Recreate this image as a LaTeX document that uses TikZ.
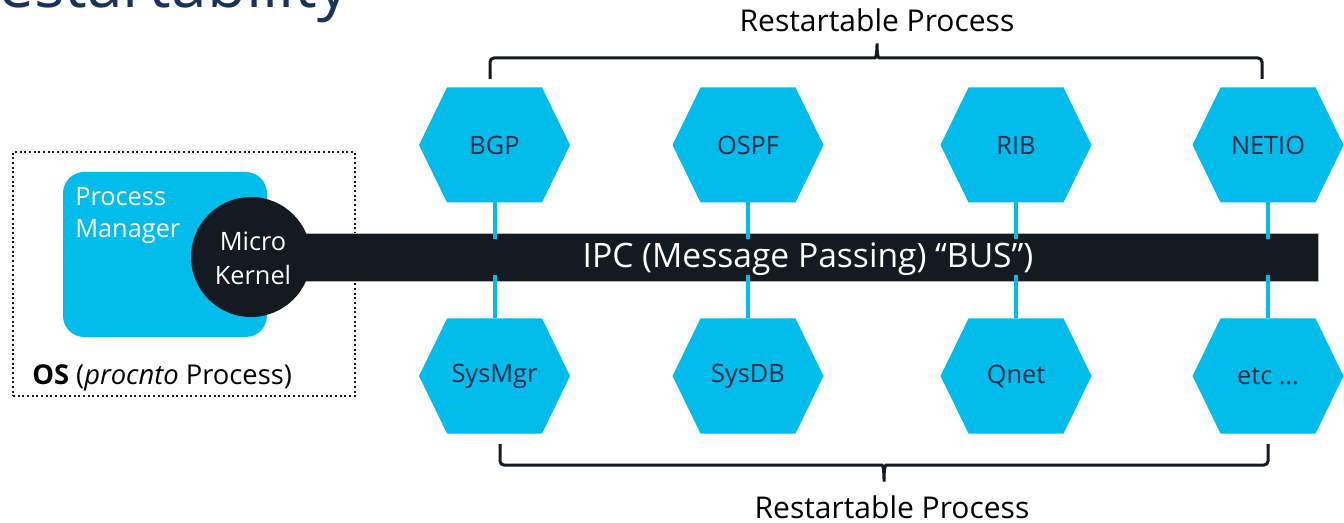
\documentclass[tikz,border=0pt]{standalone}
\usepackage{fontspec}
\setmainfont{Open Sans}
\usetikzlibrary{positioning}

\definecolor{procblue}{RGB}{0,188,235}
\definecolor{busdark}{RGB}{20,26,33}
\definecolor{hextext}{RGB}{27,43,73}
\definecolor{titleblue}{RGB}{24,52,94}

\tikzset{
  hexbox/.style={minimum width=113.25pt, minimum height=86.25pt, inner sep=0pt, outer sep=0pt,
    text=hextext, font=\fontsize{19}{22}\selectfont,
    path picture={\fill[procblue] (path picture bounding box.west)
      -- ([xshift=21pt]path picture bounding box.north west)
      -- ([xshift=-21pt]path picture bounding box.north east)
      -- (path picture bounding box.east)
      -- ([xshift=-21pt]path picture bounding box.south east)
      -- ([xshift=21pt]path picture bounding box.south west) -- cycle;}},
  link/.style={procblue, line width=3pt},
  brace/.style={busdark, line width=2.25pt, rounded corners=3pt},
  caption/.style={font=\fontsize{22.5}{26}\selectfont, text=black}
}

\begin{document}
\begin{tikzpicture}[x=0.75pt, y=-0.75pt]
\useasboundingbox (0,0) rectangle (1344,523);
\clip (0,0) rectangle (1344,523);

% title, cut off at the top edge
\node[anchor=base east, inner sep=0pt, text=titleblue, font=\fontsize{48}{54}\selectfont] (title) at (350,8) {Restartability};

% OS box
\node[draw=busdark, dotted, line width=1.5pt, minimum width=256.5pt, minimum height=183pt] (os) at (184,274) {};
\node[anchor=base west, inner sep=0pt, font=\fontsize{20.5}{24}\selectfont] (oslabel) at (32,384) {\textbf{OS} (\textit{procnto} Process)};
\node[fill=procblue, rounded corners=16pt, minimum width=153pt, minimum height=123.75pt] (pm) at (165,254.5) {};
\node[anchor=north west, inner sep=0pt, align=left, text=white, font=\fontsize{19}{24}\selectfont] (pmlabel) at (75,187) {Process\\Manager};

% bus
\node[fill=busdark, draw=gray!60, line width=0.4pt, minimum width=763.5pt, minimum height=36pt, inner sep=0pt] (bus) at (809,257) {};
\node[circle, fill=busdark, minimum size=90pt, inner sep=0pt] (mk) at (251,257) {};
\node[align=center, text=white, font=\fontsize{19}{25.5}\selectfont] (mklabel) at ([xshift=1.5pt,yshift=-1pt]mk.center) {Micro\\Kernel};

% processes
\node[hexbox] (bgp) at (494.5,145) {BGP};
\node[hexbox] (ospf) at (748,145) {OSPF};
\node[hexbox] (rib) at (1016,145) {RIB};
\node[hexbox] (netio) at (1268,145) {NETIO};
\node[hexbox] (sysmgr) at (494.5,376) {SysMgr};
\node[hexbox] (sysdb) at (748,376) {SysDB};
\node[hexbox] (qnet) at (1016,376) {Qnet};
\node[hexbox] (etc) at (1268,376) {etc \dots};

\draw[link] (bgp.south) -- ([yshift=-5pt]bus.north -| bgp.south);
\draw[link] (ospf.south) -- ([yshift=-5pt]bus.north -| ospf.south);
\draw[link] (rib.south) -- ([yshift=-5pt]bus.north -| rib.south);
\draw[link] (netio.south) -- ([yshift=-5pt]bus.north -| netio.south);
\draw[link] (sysmgr.north) -- ([yshift=5pt]bus.south -| sysmgr.north);
\draw[link] (sysdb.north) -- ([yshift=5pt]bus.south -| sysdb.north);
\draw[link] (qnet.north) -- ([yshift=5pt]bus.south -| qnet.north);
\draw[link] (etc.north) -- ([yshift=5pt]bus.south -| etc.north);

\node[text=white, font=\fontsize{25.2}{29}\selectfont] (buslabel) at (808,259) {IPC (Message Passing) “BUS”)};

% brackets
\draw[brace] (490,79) -- (490,58) -- (871,58) .. controls (876,58) and (877,52) .. (877,41)
  .. controls (877,52) and (878,58) .. (883,58) -- (1262,58) -- (1262,79);
\draw[brace] (500,444) -- (500,465) -- (878,465) .. controls (883,465) and (884,471) .. (884,484)
  .. controls (884,471) and (885,465) .. (890,465) -- (1268,465) -- (1268,444);
\node[caption, anchor=base] (toplabel) at (877,32) {Restartable Process};
\node[caption, anchor=base] (botlabel) at (892,518) {Restartable Process};
\end{tikzpicture}
\end{document}
